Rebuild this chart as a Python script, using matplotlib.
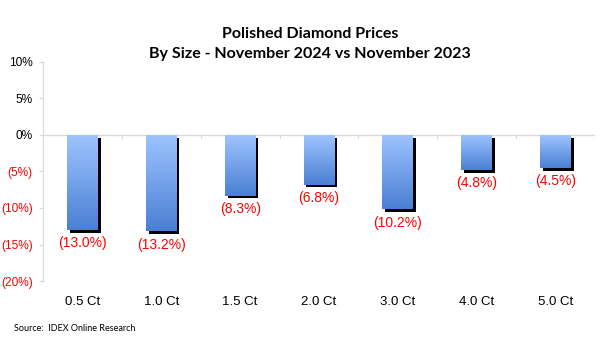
import matplotlib
matplotlib.use("Agg")
import matplotlib.pyplot as plt
import numpy as np
from matplotlib.colors import LinearSegmentedColormap
from matplotlib.patches import Rectangle
import matplotlib.transforms as mtransforms

categories = ["0.5 Ct", "1.0 Ct", "1.5 Ct", "2.0 Ct", "3.0 Ct", "4.0 Ct", "5.0 Ct"]
values = [-13.0, -13.2, -8.3, -6.8, -10.2, -4.8, -4.5]
bar_labels = ["(13.0%)", "(13.2%)", "(8.3%)", "(6.8%)", "(10.2%)", "(4.8%)", "(4.5%)"]
yticks = [10, 5, 0, -5, -10, -15, -20]
ytick_labels = ["10%", "5%", "0%", "(5%)", "(10%)", "(15%)", "(20%)"]

fig = plt.figure(figsize=(6.10, 3.54), dpi=100)
ax = fig.add_axes([0.0705, 0.2062, 0.9049, 0.6187])

x = np.arange(len(categories))
width = 0.39
cmap = LinearSegmentedColormap.from_list("g", ["#4A7FD3", "#9EC4FF"])
grad = np.linspace(0, 1, 256).reshape(-1, 1)

shadow_off = mtransforms.ScaledTranslation(2.8 / 100, -2.8 / 100, fig.dpi_scale_trans)
for xi, v in zip(x, values):
    sh = Rectangle((xi - width / 2, 0), width, v, facecolor="black", edgecolor="none",
                   transform=ax.transData + shadow_off, zorder=2)
    ax.add_patch(sh)
    rect = Rectangle((xi - width / 2, 0), width, v, facecolor="none", edgecolor="none", zorder=3)
    ax.add_patch(rect)
    im = ax.imshow(grad, cmap=cmap, aspect="auto", origin="lower",
                   extent=(xi - width / 2, xi + width / 2, v, 0), zorder=3)
    im.set_clip_path(rect)

for xi, v, lab in zip(x, values, bar_labels):
    ax.annotate(lab, (xi, v), xytext=(0, -4.5), textcoords="offset points",
                ha="center", va="top", color="#FF0000", fontsize=10, family="Liberation Sans")

ax.set_xlim(-0.5, len(categories) - 0.5)
ax.set_ylim(-20, 10)
ax.axhline(0, color="#D9D9D9", lw=1, zorder=1)
for b in np.arange(0.5, len(categories), 1):
    ax.plot([b, b], [0, -0.4], color="#D9D9D9", lw=0.8, zorder=1)

ax.set_yticks(yticks)
ax.set_yticklabels(ytick_labels, family="Liberation Sans", fontsize=8.6)
for t, v in zip(ax.get_yticklabels(), yticks):
    t.set_color("#FF0000" if v < 0 else "black")
ax.tick_params(axis="y", length=3, color="#D9D9D9", pad=4.5)

ax.set_xticks(x)
ax.set_xticklabels(categories, family="Liberation Sans", fontsize=9.5)
ax.tick_params(axis="x", length=0, pad=11)

for s in ["top", "right", "bottom"]:
    ax.spines[s].set_visible(False)
ax.spines["left"].set_color("#D9D9D9")

fig.text(0.508, 0.875, "Polished Diamond Prices\nBy Size - November 2024 vs November 2023",
         ha="center", va="center", fontsize=11.5, fontweight="bold", family="Lato",
         linespacing=1.55)
fig.text(0.023, 0.073, "Source:  IDEX Online Research", ha="left", va="center",
         fontsize=6.5, family="Lato")

fig.savefig("out.png", dpi=100)
